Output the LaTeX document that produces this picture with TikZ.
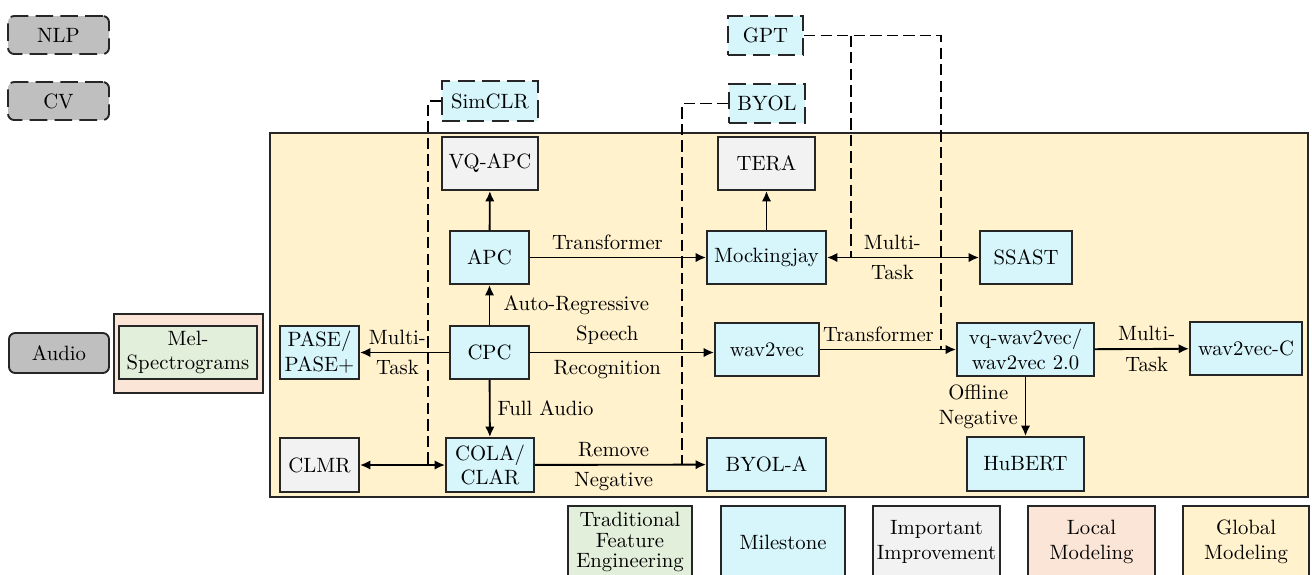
\documentclass[tikz,border=0pt]{standalone}
\usetikzlibrary{arrows.meta}
\definecolor{cyanf}{RGB}{214,246,252}
\definecolor{grayf}{RGB}{242,242,242}
\definecolor{darkg}{RGB}{191,191,191}
\definecolor{globalf}{RGB}{255,242,204}
\definecolor{localf}{RGB}{251,229,214}
\definecolor{greenf}{RGB}{226,239,218}
\tikzset{
 bx/.style={draw=black!85, line width=0.9pt, inner sep=1pt, align=center},
 sz/.style 2 args={minimum width=#1*0.483pt, minimum height=#2*0.483pt},
 mile/.style={bx, fill=cyanf},
 impr/.style={bx, fill=grayf},
 srcbox/.style={bx, fill=darkg, rounded corners=3pt},
 ext/.style={dash pattern=on 8.5pt off 3.5pt},
 arr/.style={line width=0.9pt, -{Latex[length=5pt,width=4.5pt]}},
 darr/.style={line width=0.9pt, {Latex[length=5pt,width=4.5pt]}-{Latex[length=5pt,width=4.5pt]}},
 dline/.style={line width=0.8pt, dash pattern=on 5.5pt off 2.5pt}
}
\begin{document}
\begin{tikzpicture}[x=0.483pt,y=-0.483pt]
\useasboundingbox (0,0) rectangle (1312,574);
\clip (0,0) rectangle (1312,574);
% global modeling area
\draw[line width=1pt, draw=black!85, fill=globalf] (270,133) rectangle (1308,497);
% sources
\node[srcbox, ext, sz={101}{38}] (nlp) at (58.5,35) {NLP};
\node[srcbox, ext, sz={101}{38}] (cv) at (58.5,101) {CV};
\node[srcbox, sz={100}{40}] (audio) at (59,353) {Audio};
\node[bx, fill=localf, sz={149}{79}] (melbox) at (188.5,353.5) {};
\node[bx, fill=greenf, sz={138}{53}] (mel) at (188,352.5) {Mel-\\Spectrograms};
% external methods
\node[mile, ext, sz={96}{40}] (simclr) at (490,101) {SimCLR};
\node[mile, ext, sz={75}{39}] (gpt) at (765.5,35.5) {GPT};
\node[mile, ext, sz={76}{39}] (byol) at (767,103.5) {BYOL};
% main nodes
\node[impr, sz={96}{53}] (vqapc) at (490,163.5) {VQ-APC};
\node[impr, sz={97}{53}] (tera) at (766.5,163.5) {TERA};
\node[mile, sz={79}{53}] (apc) at (489.5,257.5) {APC};
\node[mile, sz={119}{53}] (mock) at (766.5,257.5) {Mockingjay};
\node[mile, sz={92}{53}] (ssast) at (1026,257.5) {SSAST};
\node[mile, sz={79}{53}] (pase) at (319.5,352.5) {PASE/\\PASE+};
\node[mile, sz={79}{53}] (cpc) at (489.5,352.5) {CPC};
\node[mile, sz={104}{53}] (w2v) at (767,349.5) {wav2vec};
\node[mile, sz={137}{53}] (vq) at (1025.5,349.5) {vq-wav2vec/\\wav2vec 2.0};
\node[mile, sz={112}{53}] (w2vc) at (1246,348.5) {wav2vec-C};
\node[impr, sz={79}{54}] (clmr) at (319.5,465) {CLMR};
\node[mile, sz={88}{54}] (cola) at (490,465) {COLA/\\CLAR};
\node[mile, sz={119}{53}] (byola) at (766.5,464.5) {BYOL-A};
\node[mile, sz={117}{54}] (hubert) at (1025.5,464) {HuBERT};
% legend
\node[bx, fill=greenf, sz={124}{72}, font=\fontsize{10}{9.7}\selectfont] (l1) at (630,542) {Traditional\\Feature\\Engineering};
\node[mile, sz={124}{72}] (l2) at (783,542) {Milestone};
\node[impr, sz={127}{72}] (l3) at (936.5,542) {Important\\Improvement};
\node[bx, fill=localf, sz={127}{72}] (l4) at (1091.5,542) {Local\\Modeling};
\node[bx, fill=globalf, sz={126}{72}] (l5) at (1246,542) {Global\\Modeling};
% dashed influence lines
\coordinate (s1) at (428,464);
\coordinate (b1) at (682,464);
\coordinate (g1) at (941,349);
\coordinate (g2) at (851,257.5);
\draw[dline] (simclr.west) -| (s1);
\draw[dline] (byol.west) -| (b1);
\draw[dline] (gpt.east) -| (g1);
\draw[dline] (gpt.east -| g2) -- (g2);
% arrows
\draw[arr] (apc) -- (vqapc);
\draw[arr] (cpc) -- (apc) node[midway, right, xshift=3pt] {Auto-Regressive};
\draw[arr] (apc) -- (mock) node[pos=0.44, above] {Transformer};
\draw[arr] (mock) -- (tera);
\draw[darr] (mock) -- (ssast) node[pos=0.43, above] {Multi-} node[pos=0.43, below] {Task};
\draw[arr] (cpc) -- (pase) node[pos=0.58, above] {Multi-} node[pos=0.58, below] {Task};
\draw[arr] (cpc.east) -- (cpc.east -| w2v.west) node[pos=0.42, above] {Speech} node[pos=0.42, below] {Recognition};
\draw[arr] (cpc) -- (cola) node[midway, right] {Full Audio};
\draw[darr] (clmr) -- (cola);
\draw[arr] (cola) -- (byola) node[pos=0.46, above] {Remove} node[pos=0.46, below] {Negative};
\draw[arr] (w2v) -- (vq) node[pos=0.43, above] {Transformer};
\draw[arr] (vq) -- (w2vc) node[pos=0.55, above] {Multi-} node[pos=0.55, below] {Task};
\draw[arr] (vq) -- (hubert) node[midway, left, align=center] {Offline\\Negative};
\end{tikzpicture}
\end{document}
